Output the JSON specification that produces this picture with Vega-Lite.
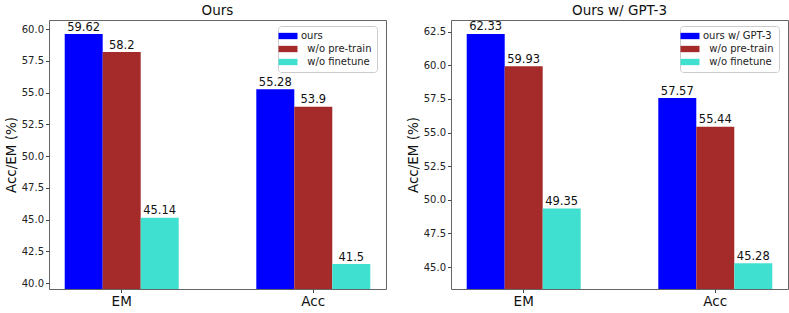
{
  "$schema": "https://vega.github.io/schema/vega-lite/v6.json",
  "background": "white",
  "padding": {"left": 3, "top": 3, "right": 5, "bottom": 2},
  "spacing": 18,
  "config": {
    "font": "DejaVu Sans",
    "view": {"stroke": "#666", "strokeWidth": 1},
    "title": {"fontSize": 13.5, "fontWeight": "normal", "color": "#111", "offset": 3},
    "axis": {"labelColor": "#222", "titleColor": "#111", "tickColor": "#444", "domain": false, "grid": false, "tickSize": 3.5, "labelPadding": 2},
    "legend": {"labelFont": "DejaVu Sans", "labelFontSize": 10, "labelColor": "#222", "fillColor": "white", "strokeColor": "#ccc", "cornerRadius": 3, "padding": 5, "rowPadding": 3, "symbolType": "M-2,-0.667H2V0.667H-2Z", "symbolSize": 90, "symbolStrokeWidth": 0, "symbolOpacity": 1, "labelOffset": 8, "title": null}
  },
  "data": {"values": [
    {"panel": "A", "metric": "EM", "variant": "ours", "value": 59.62},
    {"panel": "A", "metric": "EM", "variant": "w/o pre-train", "value": 58.2},
    {"panel": "A", "metric": "EM", "variant": "w/o finetune", "value": 45.14},
    {"panel": "A", "metric": "Acc", "variant": "ours", "value": 55.28},
    {"panel": "A", "metric": "Acc", "variant": "w/o pre-train", "value": 53.9},
    {"panel": "A", "metric": "Acc", "variant": "w/o finetune", "value": 41.5},
    {"panel": "B", "metric": "EM", "variant": "ours w/ GPT-3", "value": 62.33},
    {"panel": "B", "metric": "EM", "variant": "w/o pre-train", "value": 59.93},
    {"panel": "B", "metric": "EM", "variant": "w/o finetune", "value": 49.35},
    {"panel": "B", "metric": "Acc", "variant": "ours w/ GPT-3", "value": 57.57},
    {"panel": "B", "metric": "Acc", "variant": "w/o pre-train", "value": 55.44},
    {"panel": "B", "metric": "Acc", "variant": "w/o finetune", "value": 45.28}
  ]},
  "resolve": {"scale": {"color": "independent", "y": "independent", "x": "independent", "xOffset": "independent"}, "legend": {"color": "independent"}},
  "hconcat": [
    {
      "title": "Ours",
      "width": 337,
      "height": 269,
      "transform": [{"filter": "datum.panel === 'A'"}],
      "encoding": {
        "x": {"field": "metric", "type": "nominal", "sort": ["EM", "Acc"], "scale": {"paddingInner": 0.405, "paddingOuter": 0.082},
              "axis": {"title": null, "labelAngle": 0, "labelFontSize": 13.5, "labelColor": "#111"}},
        "xOffset": {"field": "variant", "type": "nominal", "sort": ["ours", "w/o pre-train", "w/o finetune"], "scale": {"paddingInner": 0, "paddingOuter": 0}},
        "y": {"field": "value", "type": "quantitative", "scale": {"domain": [39.53, 60.73], "nice": false, "zero": false},
              "axis": {"title": "Acc/EM (%)", "titleFontSize": 13.5, "titleFontWeight": "normal", "titlePadding": 3, "labelFontSize": 10, "values": [40, 42.5, 45, 47.5, 50, 52.5, 55, 57.5, 60], "format": ".1f"}}
      },
      "layer": [
        {
          "mark": {"type": "bar", "clip": true},
          "encoding": {
            "y2": {"datum": 39.53},
            "color": {"field": "variant", "type": "nominal",
                      "scale": {"domain": ["ours", "w/o pre-train", "w/o finetune"], "range": ["#0000ff", "#a52a2a", "#40e0d0"]},
                      "legend": {"orient": "none", "legendX": 229, "legendY": 6, "labelExpr": "datum.value === 'ours' ? datum.label : '\u200b\u00a0\u00a0' + datum.label"}}
          }
        },
        {
          "mark": {"type": "text", "baseline": "bottom", "dy": -1.5, "fontSize": 11.5, "color": "#111"},
          "encoding": {"text": {"field": "value", "type": "quantitative"}}
        }
      ]
    },
    {
      "title": "Ours w/ GPT-3",
      "width": 337,
      "height": 269,
      "transform": [{"filter": "datum.panel === 'B'"}],
      "encoding": {
        "x": {"field": "metric", "type": "nominal", "sort": ["EM", "Acc"], "scale": {"paddingInner": 0.405, "paddingOuter": 0.082},
              "axis": {"title": null, "labelAngle": 0, "labelFontSize": 13.5, "labelColor": "#111"}},
        "xOffset": {"field": "variant", "type": "nominal", "sort": ["ours w/ GPT-3", "w/o pre-train", "w/o finetune"], "scale": {"paddingInner": 0, "paddingOuter": 0}},
        "y": {"field": "value", "type": "quantitative", "scale": {"domain": [43.37, 63.37], "nice": false, "zero": false},
              "axis": {"title": "Acc/EM (%)", "titleFontSize": 13.5, "titleFontWeight": "normal", "titlePadding": 3, "labelFontSize": 10, "values": [45, 47.5, 50, 52.5, 55, 57.5, 60, 62.5], "format": ".1f"}}
      },
      "layer": [
        {
          "mark": {"type": "bar", "clip": true},
          "encoding": {
            "y2": {"datum": 43.37},
            "color": {"field": "variant", "type": "nominal",
                      "scale": {"domain": ["ours w/ GPT-3", "w/o pre-train", "w/o finetune"], "range": ["#0000ff", "#a52a2a", "#40e0d0"]},
                      "legend": {"orient": "none", "legendX": 229, "legendY": 6, "labelExpr": "datum.value === 'ours w/ GPT-3' ? datum.label : '\u200b\u00a0\u00a0' + datum.label"}}
          }
        },
        {
          "mark": {"type": "text", "baseline": "bottom", "dy": -1.5, "fontSize": 11.5, "color": "#111"},
          "encoding": {"text": {"field": "value", "type": "quantitative"}}
        }
      ]
    }
  ]
}
